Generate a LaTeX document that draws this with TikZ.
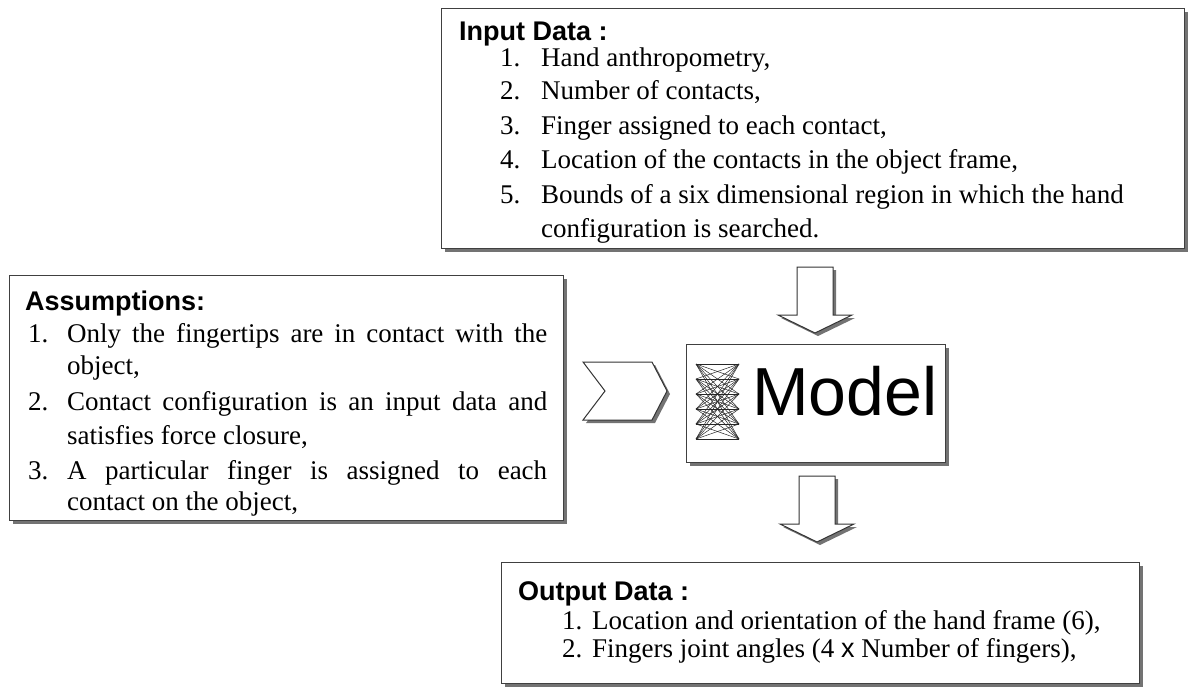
\documentclass[tikz,border=0pt]{standalone}
\usepackage{fontspec}
\setmainfont{Liberation Serif}
\setsansfont{Liberation Sans}
\usetikzlibrary{positioning,shadows}

\tikzset{
  shadowed/.style={drop shadow={shadow xshift=3pt,shadow yshift=-3pt,fill=black!55,opacity=1}},
  databox/.style={draw=black!75,line width=1.2pt,fill=white,shadowed,inner sep=0pt},
  boxtitle/.style={anchor=base west,inner sep=0pt,font=\sffamily\bfseries\fontsize{27}{30}\selectfont},
  itemtext/.style={anchor=base west,inner sep=0pt,font=\fontsize{27}{34}\selectfont},
  blockarrow/.style={draw=black!80,line width=1pt,fill=white,shadowed},
  downarrow/.pic={
    \draw[blockarrow] (-18,0) -- (-18,48) -- (-37,48) -- (0,66) -- (37,48) -- (18,48) -- (18,0) -- cycle;
  }
}

\begin{document}
\begin{tikzpicture}[x=1pt,y=-1pt]
    \useasboundingbox (0,0) rectangle (1189,686);

    % boxes
    \node[databox,anchor=north west,minimum width=743pt,minimum height=240pt] (input) at (441,8) {};
    \node[databox,anchor=north west,minimum width=554pt,minimum height=245pt] (assume) at (9,275) {};
    \node[databox,anchor=north west,minimum width=259pt,minimum height=118pt] (model) at (686,344) {};
    \node[databox,anchor=north west,minimum width=638pt,minimum height=121pt] (output) at (501,562) {};

    % input data
    \node[boxtitle] (intitle) at (459,40) {Input Data :};
    \foreach \i/\y/\t in {1/66/{Hand anthropometry,},2/99/{Number of contacts,},
        3/134/{Finger assigned to each contact,},4/168/{Location of the contacts in the object frame,},
        5/203/{Bounds of a six dimensional region in which the hand}} {
        \node[itemtext] (inum\i) at (500,\y) {\i.};
        \node[itemtext] (itxt\i) at (541,\y) {\t};
    }
    \node[itemtext] (itxt6) at (541,237) {configuration is searched.};

    % assumptions
    \node[boxtitle] (astitle) at (25,310) {Assumptions:};
    \node[itemtext] (anum1) at (28,342) {1.};
    \node[itemtext] (atxt1) at (67,342) {\makebox[480pt][s]{Only the fingertips are in contact with the}};
    \node[itemtext] (atxt1b) at (67,374) {object,};
    \node[itemtext] (anum2) at (28,410) {2.};
    \node[itemtext] (atxt2) at (67,410) {\makebox[480pt][s]{Contact configuration is an input data and}};
    \node[itemtext] (atxt2b) at (67,444) {satisfies force closure,};
    \node[itemtext] (anum3) at (28,479) {3.};
    \node[itemtext] (atxt3) at (67,479) {\makebox[480pt][s]{A particular finger is assigned to each}};
    \node[itemtext] (atxt3b) at (67,510) {contact on the object,};

    % model
    \foreach \a in {0,...,5}
        \foreach \b in {0,...,5}
            \draw[black!85,line width=0.5pt] (696,{364+\a*15}) -- (739,{364+\b*15});
    \node[anchor=base west,inner sep=0pt,font=\sffamily\fontsize{68}{70}\selectfont] (modeltxt) at (752,415) {Model};

    % output data
    \node[boxtitle] (outtitle) at (518,600) {Output Data :};
    \node[itemtext] (onum1) at (562,629) {1.};
    \node[itemtext] (otxt1) at (592,629) {Location and orientation of the hand frame (6),};
    \node[itemtext] (onum2) at (562,657) {2.};
    \node[itemtext] (otxt2) at (592,657) {Fingers joint angles (4 {\sffamily x} Number of fingers),};

    % block arrows
    \coordinate (chev) at (583,362);
    \draw[blockarrow,shift={(chev)}] (0,0) -- (69,0) -- (84,29) -- (69,58) -- (0,58) -- (22,29) -- cycle;
    \pic at (815,267) {downarrow};
    \pic at (817,476) {downarrow};
\end{tikzpicture}
\end{document}
